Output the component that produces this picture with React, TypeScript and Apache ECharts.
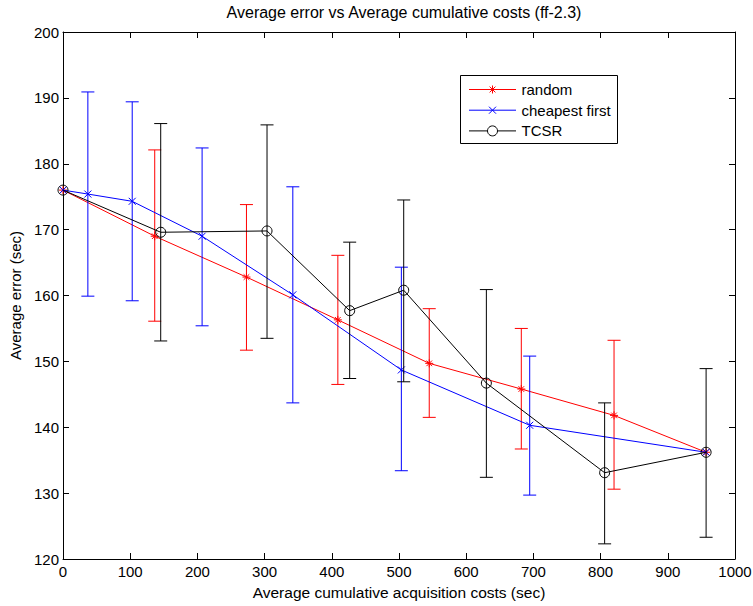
import React, { useEffect, useRef } from "react";
import * as echarts from "echarts";

const xTicks = [0, 100, 200, 300, 400, 500, 600, 700, 800, 900, 1000];
const yTicks = [120, 130, 140, 150, 160, 170, 180, 190, 200];

const randomX = [0, 136.5, 273, 409, 545, 682, 820, 957];
const randomY = [176, 169.0, 162.8, 156.3, 149.7, 145.8, 141.8, 136.2];
const randomLo = [null, 156.1, 151.7, 146.5, 141.5, 136.7, 130.6, null];
const randomHi = [null, 182.1, 173.8, 166.1, 158.0, 155.0, 153.2, null];

const cheapX = [0, 37, 103, 207, 342, 503.5, 694.5, 957];
const cheapY = [176, 175.4, 174.3, 169.0, 160.1, 148.7, 140.3, 136.2];
const cheapLo = [null, 159.9, 159.2, 155.4, 143.7, 133.4, 129.7, null];
const cheapHi = [null, 190.9, 189.4, 182.4, 176.5, 164.3, 150.8, null];

const tcsrX = [0, 145.4, 303.6, 426.6, 507, 630, 806, 957];
const tcsrY = [176, 169.6, 169.8, 157.7, 160.8, 146.7, 133.1, 136.2];
const tcsrLo = [null, 153.1, 153.5, 147.4, 146.9, 132.4, 122.3, 123.3];
const tcsrHi = [null, 186.1, 185.9, 168.1, 174.5, 160.9, 143.7, 148.9];

const seriesNames = ["random", "cheapest first", "TCSR"];
const seriesColors = ["#ff0000", "#0000ff", "#000000"];

const FONT = "'Liberation Sans', Arial, sans-serif";

function pts(xs: number[], ys: number[]) {
  return xs.map((x, i) => [x, ys[i]]);
}
function bars(xs: number[], lo: (number | null)[], hi: (number | null)[]) {
  const out: number[][] = [];
  xs.forEach((x, i) => {
    if (lo[i] != null && hi[i] != null) out.push([x, lo[i] as number, hi[i] as number]);
  });
  return out;
}

function errorSeries(data: number[][], color: string, z: number) {
  return {
    type: "custom",
    xAxisIndex: 0,
    yAxisIndex: 0,
    z,
    silent: true,
    encode: { x: 0, y: [1, 2] },
    data,
    renderItem: (params: any, api: any) => {
      const x = api.value(0);
      const pLo = api.coord([x, api.value(1)]);
      const pHi = api.coord([x, api.value(2)]);
      const hw = 6.5;
      const st = { stroke: color, lineWidth: 1 };
      return {
        type: "group",
        children: [
          { type: "line", shape: { x1: pLo[0], y1: pLo[1], x2: pHi[0], y2: pHi[1] }, style: st },
          { type: "line", shape: { x1: pLo[0] - hw, y1: pLo[1], x2: pLo[0] + hw, y2: pLo[1] }, style: st },
          { type: "line", shape: { x1: pHi[0] - hw, y1: pHi[1], x2: pHi[0] + hw, y2: pHi[1] }, style: st },
        ],
      };
    },
  };
}

const STAR = "path://M5,0L5,10M0,5L10,5M1.5,1.5L8.5,8.5M8.5,1.5L1.5,8.5";
const CROSS = "path://M0,0L10,10M10,0L0,10";

function legendGraphic() {
  const left = 460.5;
  const top = 75.5;
  const w = 157;
  const h = 68;
  const children: any[] = [
    {
      type: "rect",
      shape: { x: left, y: top, width: w, height: h },
      style: { fill: "#fff", stroke: "#000", lineWidth: 1 },
    },
  ];
  seriesNames.forEach((name, i) => {
    const cy = 89.5 + i * 20.7;
    const c = seriesColors[i];
    const lx1 = 469;
    const lx2 = 516;
    const mx = 492.5;
    const st = { stroke: c, lineWidth: 1 };
    children.push({ type: "line", shape: { x1: lx1, y1: cy, x2: lx2, y2: cy }, style: st });
    if (i === 0) {
      const r = 4;
      const d = 2.9;
      children.push({ type: "line", shape: { x1: mx, y1: cy - r, x2: mx, y2: cy + r }, style: st });
      children.push({ type: "line", shape: { x1: mx - d, y1: cy - d, x2: mx + d, y2: cy + d }, style: st });
      children.push({ type: "line", shape: { x1: mx + d, y1: cy - d, x2: mx - d, y2: cy + d }, style: st });
    } else if (i === 1) {
      const d = 3.5;
      children.push({ type: "line", shape: { x1: mx - d, y1: cy - d, x2: mx + d, y2: cy + d }, style: st });
      children.push({ type: "line", shape: { x1: mx + d, y1: cy - d, x2: mx - d, y2: cy + d }, style: st });
    } else {
      children.push({ type: "circle", shape: { cx: mx, cy, r: 5 }, style: { fill: "#fff", stroke: c, lineWidth: 1 } });
    }
    children.push({
      type: "text",
      x: 521.5,
      y: cy,
      style: {
        text: name,
        fill: "#000",
        font: `15px ${FONT}`,
        textAlign: "left",
        textVerticalAlign: "middle",
      },
    });
  });
  return { type: "group", z: 100, children };
}

export default function App() {
  const ref = useRef<HTMLDivElement>(null);
  useEffect(() => {
    if (!ref.current) return;
    const chart = echarts.init(ref.current, undefined, { renderer: "svg" });
    const axisCommon = {
      min: 0,
      max: 1000,
      interval: 100,
      axisLine: { show: true, onZero: false, lineStyle: { color: "#000", width: 1 } },
      axisTick: { show: true, inside: true, length: 6, lineStyle: { color: "#000" } },
      splitLine: { show: false },
    };
    const yCommon = {
      min: 120,
      max: 200,
      interval: 10,
      axisLine: { show: true, onZero: false, lineStyle: { color: "#000", width: 1 } },
      axisTick: { show: true, inside: true, length: 6, lineStyle: { color: "#000" } },
      splitLine: { show: false },
    };
    chart.setOption({
      animation: false,
      backgroundColor: "#fff",
      textStyle: { fontFamily: FONT },
      title: {
        text: "Average error vs Average cumulative costs (ff-2.3)",
        left: 399,
        top: -1,
        textAlign: "center",
        textStyle: { fontFamily: FONT, fontSize: 16, fontWeight: "normal", color: "#000" },
      },
      grid: {
        left: 63,
        right: 18,
        top: 32,
        bottom: 47,
        containLabel: false,
        outerBoundsMode: "none",
      },
      xAxis: [
        {
          type: "value",
          position: "bottom",
          ...axisCommon,
          axisLabel: {
            color: "#000",
            fontSize: 15,
            fontFamily: FONT,
            margin: 5,
            formatter: (v: number) => (xTicks.includes(v) ? String(v) : ""),
          },
          name: "Average cumulative acquisition costs (sec)",
          nameLocation: "middle",
          nameGap: 25,
          nameTextStyle: { color: "#000", fontSize: 15.5, fontFamily: FONT },
        },
        { type: "value", position: "top", ...axisCommon, axisLabel: { show: false } },
      ],
      yAxis: [
        {
          type: "value",
          position: "left",
          ...yCommon,
          axisLabel: {
            color: "#000",
            fontSize: 15,
            fontFamily: FONT,
            margin: 4,
            formatter: (v: number) => (yTicks.includes(v) ? String(v) : ""),
          },
          name: "Average error (sec)",
          nameLocation: "middle",
          nameGap: 39,
          nameTextStyle: { color: "#000", fontSize: 15, fontFamily: FONT },
        },
        { type: "value", position: "right", ...yCommon, axisLabel: { show: false } },
      ],
      graphic: [legendGraphic()],
      series: [
        errorSeries(bars(randomX, randomLo, randomHi), seriesColors[0], 2),
        {
          name: seriesNames[0],
          type: "line",
          xAxisIndex: 0,
          yAxisIndex: 0,
          z: 3,
          data: pts(randomX, randomY),
          symbol: STAR,
          symbolSize: 8,
          showAllSymbol: true,
          lineStyle: { color: seriesColors[0], width: 1 },
          itemStyle: { color: seriesColors[0], borderColor: seriesColors[0], borderWidth: 1 },
        },
        errorSeries(bars(cheapX, cheapLo, cheapHi), seriesColors[1], 4),
        {
          name: seriesNames[1],
          type: "line",
          xAxisIndex: 0,
          yAxisIndex: 0,
          z: 5,
          data: pts(cheapX, cheapY),
          symbol: CROSS,
          symbolSize: 7,
          showAllSymbol: true,
          lineStyle: { color: seriesColors[1], width: 1 },
          itemStyle: { color: seriesColors[1], borderColor: seriesColors[1], borderWidth: 1 },
        },
        errorSeries(bars(tcsrX, tcsrLo, tcsrHi), seriesColors[2], 6),
        {
          name: seriesNames[2],
          type: "line",
          xAxisIndex: 0,
          yAxisIndex: 0,
          z: 7,
          data: pts(tcsrX, tcsrY),
          symbol: "circle",
          symbolSize: 10,
          showAllSymbol: true,
          lineStyle: { color: seriesColors[2], width: 1 },
          itemStyle: { color: "transparent", borderColor: seriesColors[2], borderWidth: 1 },
        },
      ],
    });
    return () => chart.dispose();
  }, []);
  return (
    <div
      ref={ref}
      style={{ position: "fixed", left: 0, top: 0, width: 753, height: 606, background: "#fff" }}
    />
  );
}
